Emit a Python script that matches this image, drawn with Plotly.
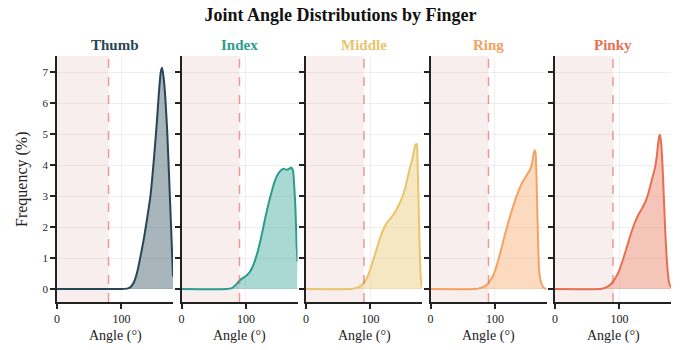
import plotly.graph_objects as go

fingers = ["Thumb", "Index", "Middle", "Ring", "Pinky"]
colors = ["#264653", "#2a9d8f", "#e9c46a", "#f4a261", "#e76f51"]
fills = ["rgba(38,70,83,0.4)", "rgba(42,157,143,0.4)", "rgba(233,196,106,0.4)",
         "rgba(244,162,97,0.4)", "rgba(231,111,81,0.4)"]
thresholds = [80, 90, 90, 90, 90]

thumb_angle = [0, 100, 110, 115, 120, 125, 130, 135, 140, 145, 150, 155, 158, 161, 163, 165, 168, 171, 174, 177, 180]
thumb_freq = [0, 0, 0.02, 0.08, 0.25, 0.6, 1.1, 1.65, 2.3, 3.0, 4.1, 5.4, 6.3, 7.0, 7.14, 6.9, 6.2, 5.1, 3.6, 2.0, 0.4]

index_angle = [0, 70, 78, 85, 90, 95, 100, 105, 110, 115, 120, 125, 130, 135, 140, 145, 150, 155, 158, 161, 164, 167, 170, 173, 175, 177, 178.5, 180]
index_freq = [0, 0, 0.03, 0.15, 0.27, 0.35, 0.42, 0.52, 0.7, 0.98, 1.35, 1.8, 2.3, 2.75, 3.15, 3.5, 3.72, 3.84, 3.88, 3.86, 3.85, 3.88, 3.92, 3.82, 3.3, 2.5, 1.5, 0.88]

middle_angle = [0, 70, 75, 80, 85, 90, 95, 100, 105, 110, 115, 120, 125, 130, 135, 140, 145, 150, 155, 160, 165, 168, 170, 172, 173, 174.5, 176, 177.5, 179, 180]
middle_freq = [0, 0, 0.02, 0.05, 0.1, 0.2, 0.38, 0.65, 0.98, 1.32, 1.65, 1.92, 2.12, 2.25, 2.38, 2.55, 2.75, 3.0, 3.35, 3.8, 4.2, 4.5, 4.66, 4.68, 4.2, 3.0, 1.6, 0.6, 0.15, 0.05]

ring_angle = [0, 70, 75, 80, 85, 90, 95, 100, 105, 110, 115, 120, 125, 130, 135, 140, 145, 150, 155, 158, 160, 161.5, 163, 164.5, 166, 167.5, 169, 171, 174, 177, 180]
ring_freq = [0, 0, 0.02, 0.05, 0.1, 0.2, 0.35, 0.58, 0.92, 1.3, 1.72, 2.1, 2.45, 2.78, 3.08, 3.33, 3.53, 3.7, 3.87, 4.1, 4.35, 4.48, 4.4, 3.6, 2.3, 1.1, 0.5, 0.25, 0.1, 0.02, 0]

pinky_angle = [0, 70, 75, 80, 85, 90, 95, 100, 105, 110, 115, 120, 125, 130, 135, 140, 145, 150, 155, 158, 160, 162, 163, 165, 167, 169, 171, 173, 175, 177, 180]
pinky_freq = [0, 0, 0.02, 0.06, 0.13, 0.24, 0.4, 0.62, 0.92, 1.25, 1.6, 1.92, 2.2, 2.42, 2.6, 2.8, 3.1, 3.5, 3.9, 4.3, 4.7, 4.95, 4.97, 4.65, 3.9, 2.9, 1.9, 1.1, 0.55, 0.2, 0.05]

angles = [thumb_angle, index_angle, middle_angle, ring_angle, pinky_angle]
freqs = [thumb_freq, index_freq, middle_freq, ring_freq, pinky_freq]

y_ticks = [0, 1, 2, 3, 4, 5, 6, 7]
x_ticks = [0, 100]

FONT = "Liberation Serif, Times New Roman, serif"
W = 614.0
step = 124.5
pw = 116.0

fig = go.Figure()
annotations = []
shapes = []
for i in range(5):
    xa = "x" if i == 0 else f"x{i+1}"
    ya = "y" if i == 0 else f"y{i+1}"
    fig.add_trace(go.Scatter(
        x=angles[i], y=freqs[i], mode="lines", xaxis=xa, yaxis=ya,
        line=dict(color=colors[i], width=2, shape="spline", smoothing=0.5),
        fill="tozeroy", fillcolor=fills[i], showlegend=False, hoverinfo="skip"))
    d0 = i * step / W
    d1 = (i * step + pw) / W
    xkey = "xaxis" if i == 0 else f"xaxis{i+1}"
    ykey = "yaxis" if i == 0 else f"yaxis{i+1}"
    fig.layout[xkey] = dict(
        domain=[d0, d1], range=[0, 180], anchor=ya, tickvals=x_ticks,
        showline=True, linecolor="#222", linewidth=1.5, ticks="outside",
        ticklen=5, tickcolor="#222", tickwidth=1.5, automargin=False,
        showgrid=True, gridcolor="rgba(0,0,0,0.06)", gridwidth=1, zeroline=False,
        tickfont=dict(family=FONT, size=12, color="#222"))
    fig.layout[ykey] = dict(
        domain=[0, 1], range=[-0.42, 7.52], anchor=xa, tickvals=y_ticks,
        showline=True, linecolor="#222", linewidth=1.5, ticks="outside",
        ticklen=5, tickcolor="#222", tickwidth=1.5, automargin=False,
        showticklabels=(i == 0),
        showgrid=True, gridcolor="rgba(0,0,0,0.06)", gridwidth=1, zeroline=False,
        tickfont=dict(family=FONT, size=11, color="#222"))
    shapes.append(dict(type="rect", xref=xa, yref=f"{ya} domain", x0=0, x1=thresholds[i],
                       y0=0, y1=1, fillcolor="#f9eeee", line=dict(width=0), layer="below"))
    shapes.append(dict(type="line", xref=xa, yref=f"{ya} domain", x0=thresholds[i], x1=thresholds[i],
                       y0=0, y1=1, line=dict(color="rgba(225,90,90,0.6)", width=1.5, dash="dash"),
                       layer="above"))
    annotations.append(dict(text=f"<b>{fingers[i]}</b>", x=(d0 + d1) / 2, y=1.0, xref="paper", yref="paper",
                            xanchor="center", yanchor="bottom", yshift=1, showarrow=False,
                            font=dict(family=FONT, size=15, color=colors[i])))
    annotations.append(dict(text="Angle (°)", x=(d0 + d1) / 2, y=0, xref="paper", yref="paper",
                            xanchor="center", yanchor="middle", yshift=-34, showarrow=False,
                            font=dict(family=FONT, size=14, color="#222")))

annotations.append(dict(text="Frequency (%)", x=0, y=0.5, xref="paper", yref="paper",
                        xanchor="center", yanchor="middle", xshift=-35, textangle=-90, showarrow=False,
                        font=dict(family=FONT, size=16, color="#222")))

fig.update_layout(
    width=681, height=350,
    margin=dict(l=57, r=10, t=56, b=48, autoexpand=False),
    paper_bgcolor="white", plot_bgcolor="white",
    title=dict(text="<b>Joint Angle Distributions by Finger</b>", x=0.5, xanchor="center",
               y=0.957, yanchor="middle", font=dict(family=FONT, size=18, color="#111")),
    shapes=shapes, annotations=annotations,
)

fig.write_html("out.html", config={"displayModeBar": False},
               post_script="document.body.style.margin='0';")
